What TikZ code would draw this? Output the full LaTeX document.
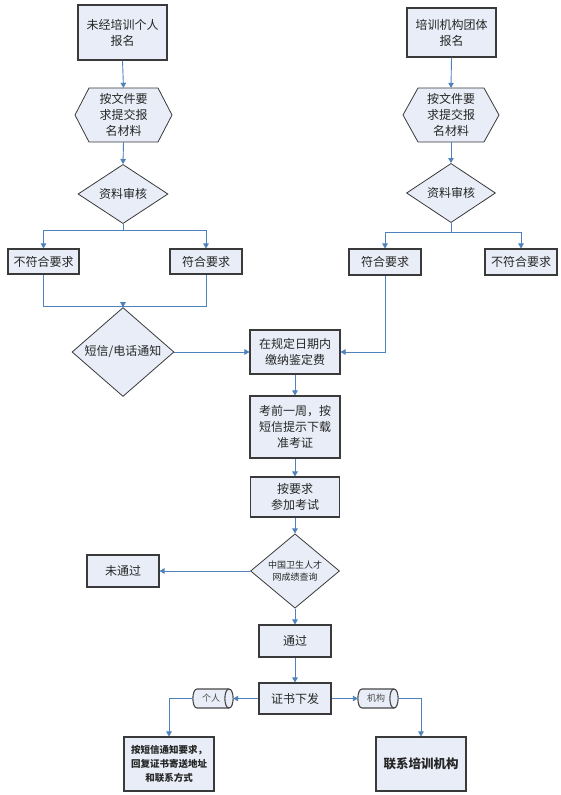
\documentclass[tikz,border=0pt]{standalone}
\usepackage{fontspec}
\setmainfont{Noto Sans CJK SC}
\usetikzlibrary{shapes.geometric,arrows.meta,calc}
\definecolor{boxfill}{HTML}{E8EDF7}
\definecolor{boxline}{HTML}{3A3A3A}
\definecolor{arrowblue}{HTML}{4F81BD}
\newcommand\drawcylinder[1]{%
  \path[cylline] ($(#1.center)+(-16,-9.5)$) -- ($(#1.center)+(16,-9.5)$)
    .. controls ($(#1.center)+(21.5,-9.5)$) and ($(#1.center)+(21.5,9.5)$) .. ($(#1.center)+(16,9.5)$)
    -- ($(#1.center)+(-16,9.5)$)
    .. controls ($(#1.center)+(-21.5,9.5)$) and ($(#1.center)+(-21.5,-9.5)$) .. cycle;
  \draw[cylinner] ($(#1.center)+(16,-9.5)$)
    .. controls ($(#1.center)+(10.5,-9.5)$) and ($(#1.center)+(10.5,9.5)$) .. ($(#1.center)+(16,9.5)$);
}
\begin{document}
\begin{tikzpicture}[x=1pt,y=-1pt,
  every node/.style={font=\fontsize{12}{16}\selectfont, text=black!85, align=center, inner sep=0pt},
  box/.style={rectangle, draw=boxline, line width=1.1pt, fill=boxfill},
  dia/.style={diamond, draw=boxline, line width=0.8pt, fill=boxfill},
  hexa/.style={rectangle, draw=none},
  hexline/.style={draw=boxline, line width=0.8pt, fill=boxfill},
  cylline/.style={draw=gray!55!black, line width=1.1pt, fill=boxfill},
  cylinner/.style={draw=gray!55!black, line width=1.1pt},
  cyl/.style={rectangle, draw=none, minimum width=40pt, minimum height=19pt, font=\fontsize{9}{11}\selectfont, text=black!70},
  arr/.style={draw=arrowblue, line width=0.9pt, -{Triangle[width=5.5pt,length=5pt]}},
  ln/.style={draw=arrowblue, line width=0.9pt}
]
\useasboundingbox (0,0) rectangle (561,795);
\fill[white] (0,0) rectangle (561,795);

% left column
\node[box, minimum width=89pt, minimum height=55pt] (a1) at (122.5,32.5) {未经培训个人\\报名};
\path[hexline] (75,115) -- (89,88) -- (158,88) -- (172,115) -- (158,142) -- (89,142) -- cycle;
\node[hexa, minimum width=97pt, minimum height=54pt] (a2) at (123.5,115) {按文件要\\求提交报\\名材料};
\node[dia, minimum width=90pt, minimum height=52pt] (a3) at (123,194) {资料审核};
\node[box, minimum width=71pt, minimum height=25pt] (a4l) at (43.5,261.5) {不符合要求};
\node[box, minimum width=72pt, minimum height=25pt] (a4r) at (206,261.5) {符合要求};
\node[dia, minimum width=102pt, minimum height=56pt] (a5) at (123,352) {短信/电话通知};

% right column
\node[box, minimum width=89pt, minimum height=49pt] (b1) at (451.5,32.5) {培训机构团体\\报名};
\path[hexline] (403,115) -- (418,88) -- (484,88) -- (499,115) -- (484,142) -- (418,142) -- cycle;
\node[hexa, minimum width=96pt, minimum height=54pt] (b2) at (451,115) {按文件要\\求提交报\\名材料};
\node[dia, minimum width=89pt, minimum height=50pt] (b3) at (451,193) {资料审核};
\node[box, minimum width=72pt, minimum height=26pt] (b4l) at (385,262) {符合要求};
\node[box, minimum width=72pt, minimum height=26pt] (b4r) at (521,262) {不符合要求};

% centre column
\node[box, minimum width=90pt, minimum height=44pt] (c1) at (295,352) {在规定日期内\\缴纳鉴定费};
\node[box, minimum width=90pt, minimum height=62pt] (c2) at (295,427) {考前一周，按\\短信提示下载\\准考证};
\node[box, minimum width=89pt, minimum height=40pt] (c3) at (295,497) {按要求\\参加考试};
\node[dia, minimum width=89pt, minimum height=53pt, font=\fontsize{9}{12}\selectfont] (c4) at (295,571) {中国卫生人才\\网成绩查询};
\node[box, minimum width=72pt, minimum height=32pt] (c5) at (123,571) {未通过};
\node[box, minimum width=72pt, minimum height=32pt] (c6) at (295,641) {通过};
\node[box, minimum width=72pt, minimum height=31pt] (c7) at (295,698.5) {证书下发};
\node[cyl] (p1) at (213,698.5) {};
\drawcylinder{p1}
\node[cyl, minimum width=0pt, minimum height=0pt] (p1t) at (211,698.5) {个人};
\node[cyl] (p2) at (378,698.5) {};
\drawcylinder{p2}
\node[cyl, minimum width=0pt, minimum height=0pt] (p2t) at (376,698.5) {机构};
\node[box, minimum width=90pt, minimum height=54pt, font=\bfseries\fontsize{9.5}{14}\selectfont] (d1) at (169,764) {按短信通知要求，\\回复证书寄送地址\\和联系方式};
\node[box, minimum width=90pt, minimum height=54pt, font=\bfseries\fontsize{12.5}{15}\selectfont] (d2) at (421,764) {联系培训机构};

% connectors left
\draw[arr] (a1.south) -- (a2.north);
\draw[arr] (a2.south) -- (a3.north);
\coordinate (abr) at (123,230);
\draw[ln] (a3.south) -- (abr);
\draw[arr] (abr) -| (a4l.north);
\draw[arr] (abr) -| (a4r.north);
\coordinate (amg) at (123,306);
\draw[ln] (a4l.south) |- (amg);
\draw[ln] (a4r.south) |- (amg);
\draw[arr] (amg) -- (a5.north);
\draw[arr] (a5.east) -- (c1.west);

% connectors right
\draw[arr] (b1.south) -- (b2.north);
\draw[arr] (b2.south) -- (b3.north);
\coordinate (bbr) at (451,232);
\draw[ln] (b3.south) -- (bbr);
\draw[arr] (bbr) -| (b4l.north);
\draw[arr] (bbr) -| (b4r.north);
\draw[arr] (b4l.south) |- (c1.east);

% centre connectors
\draw[arr] (c1.south) -- (c2.north);
\draw[arr] (c2.south) -- (c3.north);
\draw[arr] (c3.south) -- (c4.north);
\draw[arr] (c4.west) -- (c5.east);
\draw[arr] (c4.south) -- (c6.north);
\draw[arr] (c6.south) -- (c7.north);
\draw[arr] (c7.west) -- (p1.east);
\draw[arr] (c7.east) -- (p2.west);
\draw[arr] (p1.west) -| (d1.north);
\draw[arr] (p2.east) -| (d2.north);
\end{tikzpicture}
\end{document}
